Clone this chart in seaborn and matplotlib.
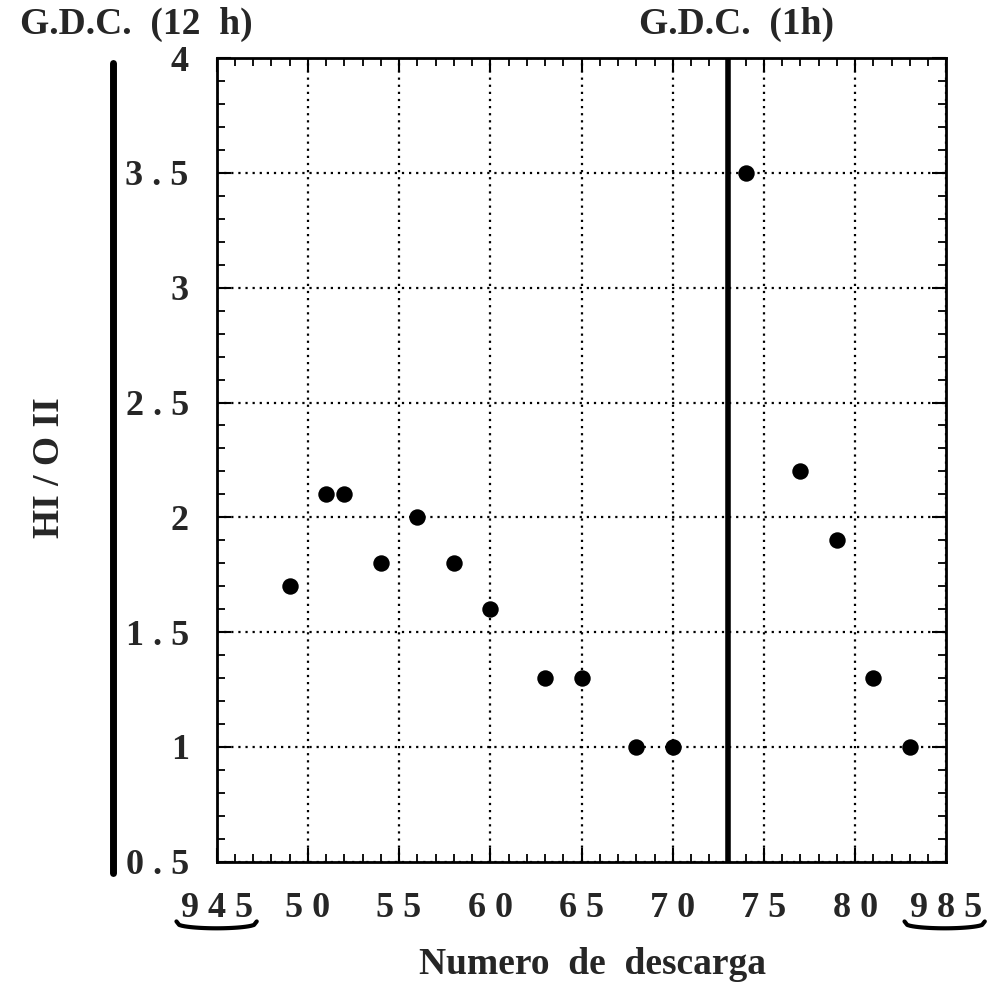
import numpy as np
import pandas as pd
import matplotlib
matplotlib.use("Agg")
import matplotlib.pyplot as plt
import seaborn as sns
from matplotlib.ticker import MultipleLocator

# ---- data ----
discharge = [49, 51, 52, 54, 56, 58, 60, 63, 65, 68, 70, 74, 77, 79, 81, 83]
ratio = [1.7, 2.1, 2.1, 1.8, 2.0, 1.8, 1.6, 1.3, 1.3, 1.0, 1.0, 3.5, 2.2, 1.9, 1.3, 1.0]
gdc_1h_x = 73
gdc_12h_x = 39.3
x_ticks = [45, 50, 55, 60, 65, 70, 75, 80, 85]
x_ticklabels = ["9 4 5", "5 0", "5 5", "6 0", "6 5", "7 0", "7 5", "8 0", "9 8 5"]
y_ticks = [0.5, 1, 1.5, 2, 2.5, 3, 3.5, 4]
y_ticklabels = ["0 . 5", "1", "1 . 5", "2", "2 . 5", "3", "3 . 5", "4"]

df = pd.DataFrame({"Numero de descarga": discharge, "HI / O II": ratio})

sns.set_theme(style="white")
plt.rcParams["font.family"] = ["Liberation Serif", "DejaVu Serif"]
plt.rcParams["font.weight"] = "bold"

fig = plt.figure(figsize=(9.89, 10.02), dpi=100)
ax = fig.add_axes([0.219, 0.140, 0.738, 0.802])

sns.scatterplot(data=df, x="Numero de descarga", y="HI / O II", ax=ax,
                color="black", s=140, edgecolor="black", linewidth=0, zorder=5)

ax.set_xlim(45, 85)
ax.set_ylim(0.5, 4)
ax.set_xticks(x_ticks)
ax.set_xticklabels(x_ticklabels, fontsize=26, fontweight="bold")
ax.set_yticks(y_ticks)
ax.set_yticklabels(y_ticklabels, fontsize=26, fontweight="bold")
ax.xaxis.set_minor_locator(MultipleLocator(1))
ax.yaxis.set_minor_locator(MultipleLocator(0.1))
ax.tick_params(which="both", direction="in", top=True, right=True,
               bottom=True, left=True, color="black")
ax.tick_params(which="major", length=10, width=1.5)
ax.tick_params(which="minor", length=6, width=1.3)
ax.tick_params(axis="x", which="major", pad=22)
ax.tick_params(axis="y", which="major", pad=20)

ax.grid(True, which="major", color="black", linestyle=(0, (1, 2.2)), linewidth=1.6)
for sp in ax.spines.values():
    sp.set_color("black")
    sp.set_linewidth(2)

ax.set_xlabel("Numero  de  descarga", fontsize=27, fontweight="bold")
ax.xaxis.set_label_coords(0.515, -0.106)
ax.set_ylabel("HI / O II", fontsize=27, fontweight="bold")
ax.yaxis.set_label_coords(-0.205, 0.49)

# G.D.C. markers
ax.axvline(gdc_1h_x, color="black", linewidth=4, zorder=4)
ax.plot([gdc_12h_x, gdc_12h_x], [0.45, 3.98], color="black", linewidth=5,
        clip_on=False, solid_capstyle="round")
ax.text(gdc_1h_x + 0.5, 4.07, "G.D.C.  (1h)", ha="center", va="bottom",
        fontsize=27, fontweight="bold")
ax.text(gdc_12h_x + 1.3, 4.07, "G.D.C.  (12  h)", ha="center", va="bottom",
        fontsize=27, fontweight="bold", clip_on=False)

# hand-drawn underline braces below the edge tick labels
for xc in (45.0, 84.9):
    xs = np.linspace(xc - 2.2, xc + 2.2, 30)
    t = (xs - xs[0]) / (xs[-1] - xs[0])
    ys = 0.5 - 0.26 - 0.03 * np.sin(np.pi * t) ** 0.3
    ax.plot(xs, ys, color="black", linewidth=3, clip_on=False)

fig.savefig("out.png", dpi=100, facecolor="white")
